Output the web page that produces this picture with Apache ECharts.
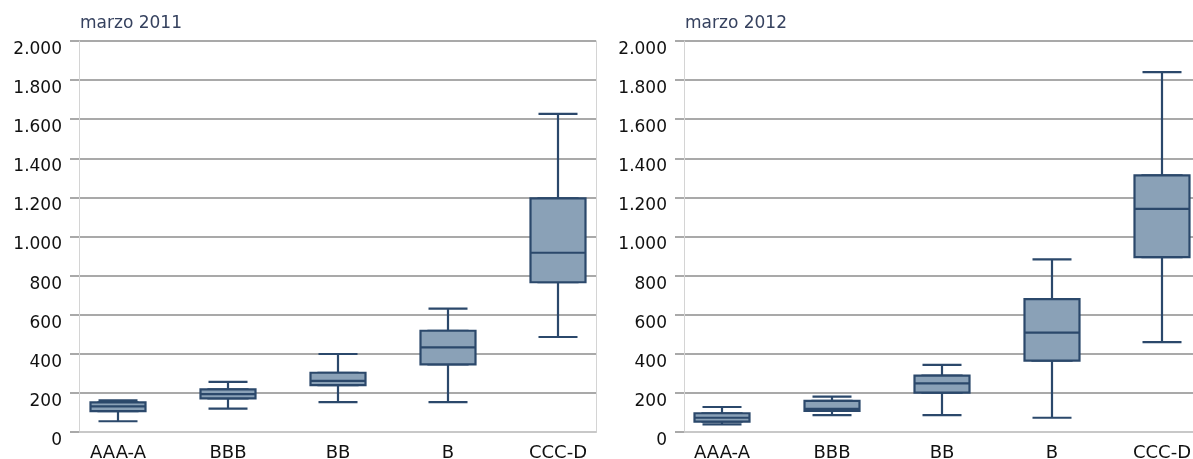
<!DOCTYPE html>
<html>
<head>
<meta charset="utf-8">
<script src="https://cdn.jsdelivr.net/npm/echarts@6/dist/echarts.min.js"></script>
<style>
  html, body { margin: 0; padding: 0; background: #fff; }
  #chart { width: 1193px; height: 459px; }
</style>
</head>
<body>
<div id="chart"></div>
<script>
const categories = ['AAA-A', 'BBB', 'BB', 'B', 'CCC-D']
// [min, Q1, median, Q3, max]
const box2011 = [
  [55, 107, 131, 152, 162],
  [120, 172, 194, 218, 256],
  [153, 240, 261, 303, 399],
  [153, 346, 433, 518, 631],
  [486, 766, 917, 1195, 1627]
]
const box2012 = [
  [39, 53, 73, 96, 128],
  [86, 108, 118, 159, 181],
  [86, 201, 249, 288, 343],
  [73, 365, 508, 680, 883],
  [460, 894, 1141, 1313, 1841]
]
const yTickLabels = ['0', '200', '400', '600', '800', '1.000', '1.200', '1.400', '1.600', '1.800', '2.000']
const panelTitles = ['marzo 2011', 'marzo 2012']

const chart = echarts.init(document.getElementById('chart'))

const FONT = 'DejaVu Sans'
const BOX_FILL = '#8aa1b7'
const BOX_LINE = '#2b486b'
const GRID_LINE = '#a9a9a9'

// frame grid (axes, gridlines) and data grid (boxes) per panel
const frames = [
  { left: 79, top: 41, width: 517, height: 391 },
  { left: 684, top: 41, width: 509, height: 391 }
]
const dataGrids = [
  { left: 63, top: 41, width: 550, height: 391 },
  { left: 667, top: 41, width: 550, height: 391 }
]

const grid = []
const xAxis = []
const yAxis = []
const series = []
const title = []

const panels = [box2011, box2012]

panels.forEach((boxes, p) => {
  const gi = grid.length
  grid.push(Object.assign({ outerBoundsMode: 'none' }, frames[p]))
  // whiskers and boxes each get their own grid, so the two boxplot series overlap
  grid.push(Object.assign({ outerBoundsMode: 'none' }, dataGrids[p]))
  grid.push(Object.assign({ outerBoundsMode: 'none' }, dataGrids[p]))

  title.push({
    text: panelTitles[p],
    left: frames[p].left + 1,
    top: 15,
    padding: 0,
    textStyle: { fontFamily: FONT, fontSize: 17, fontWeight: 'normal', color: '#36425f' }
  })

  // frame axes
  xAxis.push({
    gridIndex: gi, type: 'value', min: 0, max: 1,
    axisLine: { show: true, lineStyle: { color: '#c8c8c8', width: 2 } },
    axisTick: { show: false }, axisLabel: { show: false }, splitLine: { show: false }
  })
  yAxis.push({
    gridIndex: gi, type: 'value', min: 0, max: 2000, interval: 200,
    axisLine: { show: true, lineStyle: { color: '#d4d4d4', width: 1 } },
    axisTick: { show: true, length: 9, lineStyle: { color: GRID_LINE, width: 2 } },
    axisLabel: {
      fontFamily: FONT, fontSize: 17, color: '#111', margin: 17,
      verticalAlign: 'top',
      formatter: v => yTickLabels[Math.round(v / 200)]
    },
    splitLine: { show: true, lineStyle: { color: GRID_LINE, width: 2 } }
  })
  // right border of the plot area
  yAxis.push({
    gridIndex: gi, type: 'value', min: 0, max: 2000, position: 'right',
    axisLine: { show: p === 0, lineStyle: { color: '#d4d4d4', width: 1 } },
    axisTick: { show: false }, axisLabel: { show: false }, splitLine: { show: false }
  })

  // data axes
  ;[1, 2].forEach(k => {
    xAxis.push({
      gridIndex: gi + k, type: 'category', data: categories,
      axisLine: { show: false }, axisTick: { show: false },
      axisLabel: { show: k === 1, fontFamily: FONT, fontSize: 18, color: '#111', margin: 12 },
      splitLine: { show: false }
    })
    yAxis.push({ gridIndex: gi + k, type: 'value', min: 0, max: 2000, show: false })
  })

  const xBase = p * 3
  const yBase = p * 4

  // whiskers with narrow caps
  series.push({
    type: 'boxplot', xAxisIndex: xBase + 1, yAxisIndex: yBase + 2, z: 2,
    boxWidth: [39, 39],
    data: boxes,
    itemStyle: { color: BOX_FILL, borderColor: BOX_LINE, borderWidth: 2.2 },
    emphasis: { disabled: true }
  })
  // wide box with median
  series.push({
    type: 'boxplot', xAxisIndex: xBase + 2, yAxisIndex: yBase + 3, z: 3,
    boxWidth: [55, 55],
    data: boxes.map(b => [b[1], b[1], b[2], b[3], b[3]]),
    itemStyle: { color: BOX_FILL, borderColor: BOX_LINE, borderWidth: 2.2 },
    emphasis: { disabled: true }
  })
})

chart.setOption({
  animation: false,
  backgroundColor: '#fff',
  title,
  grid,
  xAxis,
  yAxis,
  series
})
</script>
</body>
</html>
